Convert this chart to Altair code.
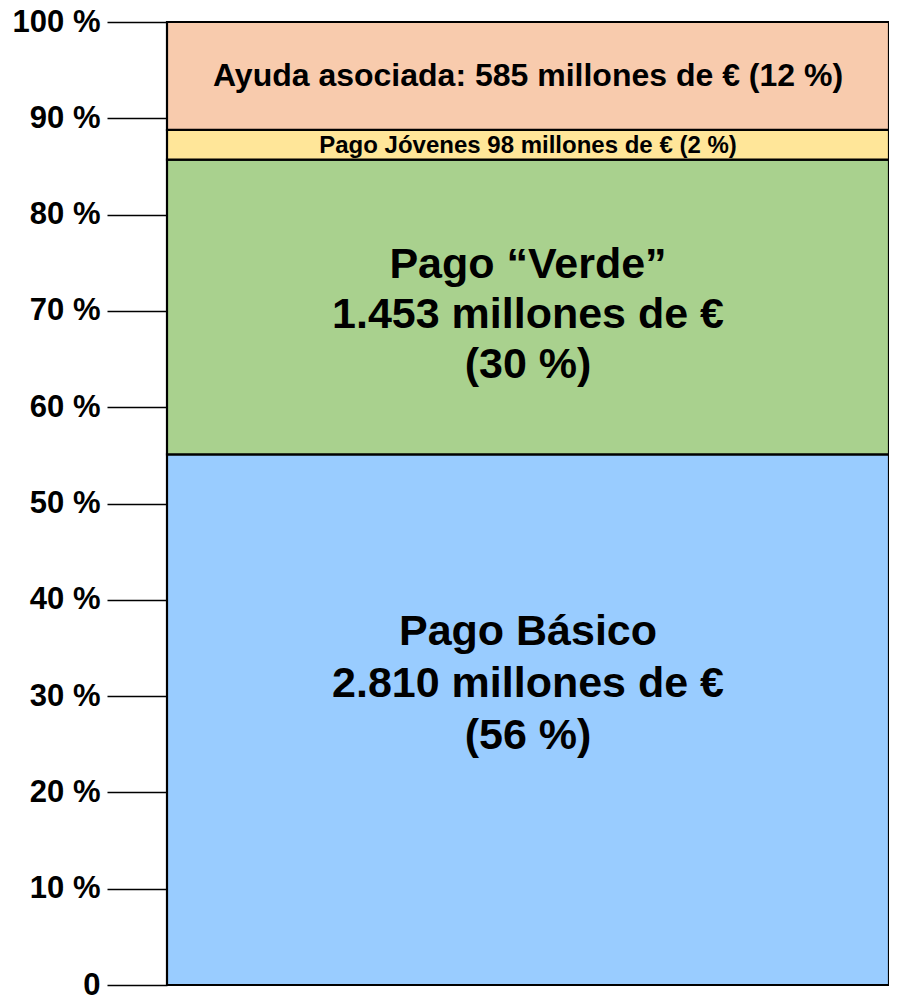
import altair as alt
import pandas as pd

# Segments of the single stacked bar (bottom to top)
categorias = ["Pago Básico", "Pago “Verde”", "Pago Jóvenes", "Ayuda asociada"]
orden = [1, 2, 3, 4]
# segment heights (% of the axis)
altura = [55.1, 30.6, 3.1, 11.2]
etiquetas = [
    "Pago Básico\n2.810 millones de €\n(56 %)",
    "Pago “Verde”\n1.453 millones de €\n(30 %)",
    "Pago Jóvenes 98 millones de € (2 %)",
    "Ayuda asociada: 585 millones de € (12 %)",
]
colores = ["#99CCFF", "#A9D18E", "#FFE699", "#F8CBAD"]
ticks_y = [0, 10, 20, 30, 40, 50, 60, 70, 80, 90, 100]

df = pd.DataFrame({
    "grupo": ["total"] * len(categorias),
    "categoria": categorias,
    "orden": orden,
    "valor": altura,
    "etiqueta": etiquetas,
})

FONT = "Liberation Sans, Arial, Helvetica, sans-serif"

xenc = alt.X("grupo:N", axis=None, scale=alt.Scale(paddingInner=0, paddingOuter=0))

bars = alt.Chart(df).mark_bar(stroke="black", strokeWidth=2.2).encode(
    x=xenc,
    y=alt.Y(
        "valor:Q",
        stack="zero",
        scale=alt.Scale(domain=[0, 100], nice=False, zero=True),
        axis=alt.Axis(
            values=ticks_y,
            labelExpr="datum.value == 0 ? '0' : datum.value + ' %'",
            title=None,
            grid=False,
            domain=False,
            ticks=True,
            tickSize=60,
            tickWidth=1.6,
            tickColor="black",
            labelPadding=7,
            labelFont=FONT,
            labelFontWeight="bold",
            labelFontSize=31,
            labelColor="black",
        ),
    ),
    order=alt.Order("orden:Q"),
    color=alt.Color(
        "categoria:N",
        scale=alt.Scale(domain=categorias, range=colores),
        legend=None,
    ),
)

base_text = alt.Chart(df).transform_stack(
    stack="valor", groupby=["grupo"], as_=["y0", "y1"], sort=[alt.SortField("orden")]
).transform_calculate(mid="(datum.y0 + datum.y1) / 2")


def etiqueta(k, size, dy, line_height=52):
    return base_text.transform_filter(f"datum.orden == {k}").mark_text(
        font=FONT,
        fontWeight="bold",
        fontSize=size,
        color="black",
        align="center",
        baseline="middle",
        lineBreak="\n",
        lineHeight=line_height,
        dy=dy,
    ).encode(
        x=xenc,
        y=alt.Y("mid:Q"),
        text="etiqueta:N",
    )


textos = [
    etiqueta(1, 43, -88, line_height=52),
    etiqueta(2, 43, -42, line_height=50),
    etiqueta(3, 24, 1),
    etiqueta(4, 32, 0),
]

chart = alt.layer(bars, *textos).properties(
    width=722,
    height=963,
    autosize=alt.AutoSizeParams(type="none"),
    padding={"left": 159, "top": 14, "right": 0, "bottom": 20},
).configure_view(stroke=None).configure(background="white")

chart.save("out.html", embed_options={"renderer": "svg", "actions": False})
